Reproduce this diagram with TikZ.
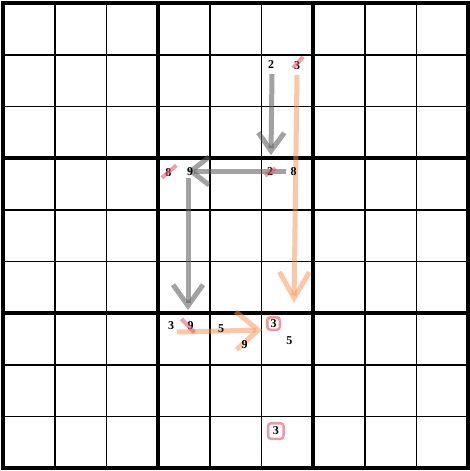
\documentclass[tikz,border=0pt]{standalone}
\usepackage{fontspec}
\setmainfont{Liberation Serif}
\usetikzlibrary{arrows.meta,calc}
\definecolor{grayink}{RGB}{95,95,95}
\definecolor{orangeink}{RGB}{248,145,80}
\definecolor{pinkink}{RGB}{235,80,100}
\begin{document}
\begin{tikzpicture}[x=1pt,y=-1pt,
  minorline/.style={line width=1.6pt},
  majorline/.style={line width=4pt, line cap=rect},
  cand/.style={inner sep=0pt, font=\fontsize{12}{12}\selectfont\bfseries},
  garrow/.style={draw=grayink, draw opacity=0.58, line width=5pt},
  oarrow/.style={draw=orangeink, draw opacity=0.5, line width=5pt},
  strike/.style={draw=pinkink, draw opacity=0.55, line width=4pt},
  boxed/.style={draw=pinkink, draw opacity=0.6, line width=2.5pt, rounded corners=3pt}
]
\useasboundingbox (0,0) rectangle (470,471);
\fill[white] (0,0) rectangle (470,471);
% grid
\foreach \i in {1,2,4,5,7,8} {
  \draw[minorline] (3.3+\i*51.667,3.3) -- (3.3+\i*51.667,468.3);
  \draw[minorline] (3.3,3.3+\i*51.667) -- (468.3,3.3+\i*51.667);
}
\foreach \i in {0,3,6,9} {
  \draw[majorline] (3.3+\i*51.667,3.3) -- (3.3+\i*51.667,468.3);
  \draw[majorline] (3.3,3.3+\i*51.667) -- (468.3,3.3+\i*51.667);
}
% arrow end points
\coordinate (g1s) at (272,74);
\coordinate (g1e) at (271,155);
\coordinate (o1s) at (297,75);
\coordinate (o1e) at (294,303);
\coordinate (g2s) at (286,171);
\coordinate (g2e) at (187,171);
\coordinate (g3s) at (188,178);
\coordinate (g3e) at (188,310);
\coordinate (o2s) at (177,332);
\coordinate (o2e) at (262,330);
% arrows
\draw[garrow, -{Straight Barb[length=18pt,width=26pt]}] (g1s) -- (g1e);
\draw[oarrow, -{Straight Barb[length=26pt,width=30pt]}] (o1s) -- (o1e);
\draw[garrow, -{Straight Barb[length=18pt,width=28pt]}] (g2s) -- (g2e);
\draw[garrow, -{Straight Barb[length=21pt,width=30pt]}] (g3s) -- (g3e);
\draw[oarrow, -{Straight Barb[length=22pt,width=38pt]}] (o2s) -- (o2e);
% candidates
\node[cand] (a2) at (271,65) {2};
\node[cand] (a3) at (297,66) {3};
\node[cand] (b8) at (168.3,172.3) {8};
\node[cand] (b9) at (190,171.5) {9};
\node[cand] (c2) at (270,171.7) {2};
\node[cand] (c8) at (293.5,172) {8};
\node[cand] (d3) at (171,326) {3};
\node[cand] (d9) at (190.5,325.5) {9};
\node[cand] (e5) at (221,328.5) {5};
\node[cand] (e9) at (244.5,344.5) {9};
\node[cand, boxed, minimum width=12.5pt, minimum height=12.5pt] (f3) at (273.5,323.5) {3};
\node[cand] (f5) at (289.3,341) {5};
\node[cand, boxed, minimum width=15.5pt, minimum height=15.5pt] (g3) at (275.8,431) {3};
% strike marks
\draw[strike] ($(a3)+(-4,2)$) -- ($(a3)+(6,-9)$);
\draw[strike] ($(b8)+(-6.5,5.5)$) -- ($(b8)+(8,-7)$);
\draw[strike] ($(c2)+(-5,4)$) -- ($(c2)+(5.5,-3.5)$);
\draw[strike] ($(d9)+(-9,-6.5)$) -- ($(d9)+(4,7)$);
\end{tikzpicture}
\end{document}
